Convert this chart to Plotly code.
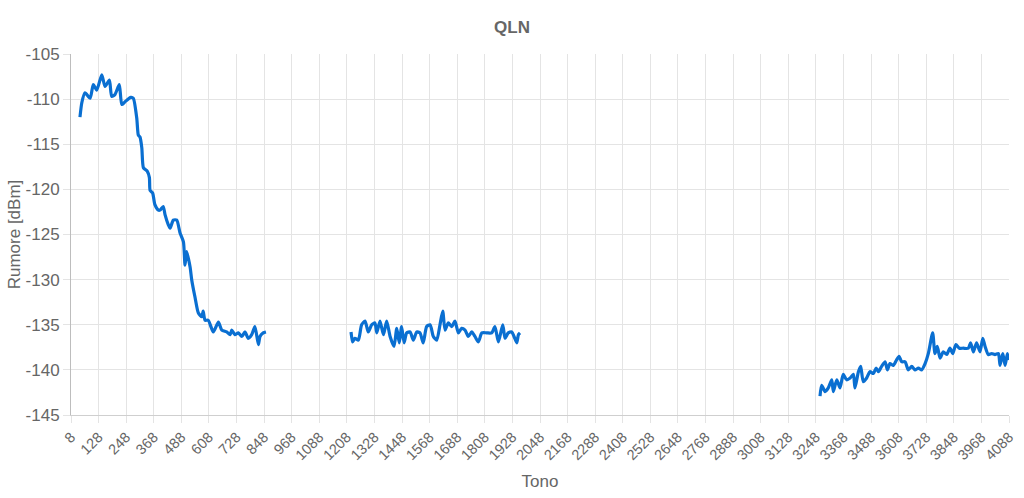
import plotly.graph_objects as go

# Segment 1
tones_1 = [47, 55, 69, 91, 105, 120, 142, 156, 175, 185, 199, 218, 229, 243, 268, 279, 294, 301, 308, 316,
           323, 340, 349, 352, 363, 373, 388, 395, 409, 417, 431, 439, 453, 468, 482, 497, 504, 511, 526, 533,
           547, 562, 577, 583, 591, 605, 627, 649, 664, 685, 700, 707, 721, 736, 751, 765, 779, 794, 808, 823,
           830, 844, 856]
qln_1 = [-112.0, -110.4, -109.3, -109.9, -108.4, -109.0, -107.3, -108.6, -107.9, -109.7, -109.5, -108.4, -110.6,
         -110.3, -109.8, -109.9, -112.1, -114.0, -114.2, -115.4, -117.6, -118.0, -118.7, -120.1, -120.4, -121.7,
         -122.3, -122.3, -121.9, -122.8, -123.9, -124.3, -123.4, -123.4, -124.8, -125.8, -128.4, -126.9, -128.6,
         -130.0, -131.9, -133.7, -134.1, -133.5, -134.5, -134.5, -135.8, -134.7, -135.6, -135.8, -136.1, -135.6,
         -136.1, -135.9, -136.3, -135.8, -136.5, -136.1, -135.2, -137.2, -136.3, -135.9, -135.8]

# Segment 2
tones_2 = [1226, 1233, 1243, 1258, 1272, 1287, 1301, 1316, 1330, 1338, 1352, 1367, 1381, 1396, 1413, 1425, 1436,
           1446, 1457, 1468, 1483, 1497, 1512, 1526, 1540, 1555, 1570, 1584, 1599, 1613, 1625, 1635, 1649, 1664,
           1678, 1693, 1707, 1722, 1736, 1751, 1765, 1780, 1795, 1816, 1838, 1852, 1867, 1886, 1896, 1910, 1925,
           1935, 1947, 1954, 1961]
qln_2 = [-135.8, -136.9, -136.5, -136.7, -135.0, -134.6, -135.8, -135.0, -134.8, -135.9, -134.6, -136.1, -134.6,
         -136.3, -137.4, -135.4, -137.0, -135.2, -137.0, -135.9, -135.8, -136.7, -135.8, -135.9, -137.0, -135.2,
         -135.0, -136.3, -136.7, -135.0, -133.5, -135.6, -134.8, -135.2, -134.6, -135.9, -135.4, -135.6, -136.3,
         -135.8, -136.3, -136.9, -135.9, -135.9, -135.9, -135.2, -136.9, -135.0, -136.5, -135.9, -135.8, -136.3,
         -137.0, -136.1, -135.9]

# Segment 3
tones_3 = [3266, 3273, 3288, 3302, 3317, 3324, 3339, 3353, 3367, 3382, 3397, 3411, 3418, 3433, 3443, 3454, 3469,
           3483, 3498, 3510, 3520, 3534, 3549, 3559, 3570, 3585, 3599, 3610, 3621, 3636, 3650, 3665, 3679, 3694,
           3708, 3723, 3737, 3756, 3766, 3776, 3788, 3802, 3817, 3831, 3843, 3857, 3872, 3889, 3911, 3921, 3933,
           3947, 3962, 3974, 3984, 3998, 4013, 4027, 4042, 4049, 4061, 4071, 4081, 4088]
qln_3 = [-142.9, -141.7, -142.4, -142.0, -141.1, -142.4, -141.1, -142.0, -140.5, -141.1, -140.9, -140.5, -142.0,
         -140.2, -139.6, -141.3, -140.9, -140.2, -140.4, -139.8, -140.2, -139.6, -139.1, -140.0, -139.3, -139.5,
         -138.9, -138.5, -139.1, -139.1, -140.0, -139.6, -140.0, -139.8, -140.0, -139.3, -138.2, -135.9, -138.2,
         -137.4, -138.7, -138.0, -138.3, -137.6, -138.2, -137.2, -137.6, -137.6, -137.6, -137.0, -138.0, -137.0,
         -138.0, -136.5, -137.4, -138.3, -138.2, -138.3, -138.2, -139.5, -138.2, -139.5, -138.2, -138.9]

x_ticks = list(range(8, 4089, 120))
y_ticks = list(range(-145, -104, 5))

x = tones_1 + [None] + tones_2 + [None] + tones_3
y = qln_1 + [None] + qln_2 + [None] + qln_3

FONT = "Liberation Sans, Arial, Helvetica, sans-serif"
GRID = "#e4e4e4"
TXT = "#666666"

fig = go.Figure()
fig.add_trace(go.Scatter(
    x=x, y=y, mode="lines", connectgaps=False,
    line=dict(color="#0a6fd1", width=3.2, shape="spline", smoothing=0.6),
    hoverinfo="x+y", showlegend=False,
))

fig.update_layout(
    width=1024, height=498,
    paper_bgcolor="white", plot_bgcolor="white",
    margin=dict(l=71, r=15, t=54, b=83),
    title=dict(text="<b>QLN</b>", x=0.5, xref="container", xanchor="center",
               y=1 - 27 / 498, yref="container", yanchor="middle",
               font=dict(family=FONT, size=17, color=TXT)),
    font=dict(family=FONT, color=TXT),
)
fig.update_xaxes(
    range=[8, 4088], tickmode="array", tickvals=x_ticks, ticktext=[str(v) for v in x_ticks],
    tickangle=-45, tickfont=dict(size=14.5, color=TXT),
    showgrid=True, gridcolor=GRID, gridwidth=1,
    ticks="outside", ticklen=7, tickcolor=GRID,
    showline=True, linecolor="#cfcfcf", linewidth=1, zeroline=False, automargin=False,
    title=dict(text="Tono", font=dict(size=17, color=TXT), standoff=12),
)
fig.update_yaxes(
    range=[-145, -105], tickmode="array", tickvals=y_ticks, ticktext=[str(v) for v in y_ticks],
    tickfont=dict(size=17, color=TXT),
    showgrid=True, gridcolor=GRID, gridwidth=1,
    ticks="outside", ticklen=7, tickcolor=GRID,
    showline=True, linecolor="#bdbdbd", linewidth=1, zeroline=False, automargin=False,
    title=dict(text="Rumore [dBm]", font=dict(size=17, color=TXT), standoff=0),
)

fig.write_html("out.html", config={"displayModeBar": False},
               post_script="document.body.style.margin='0';")
